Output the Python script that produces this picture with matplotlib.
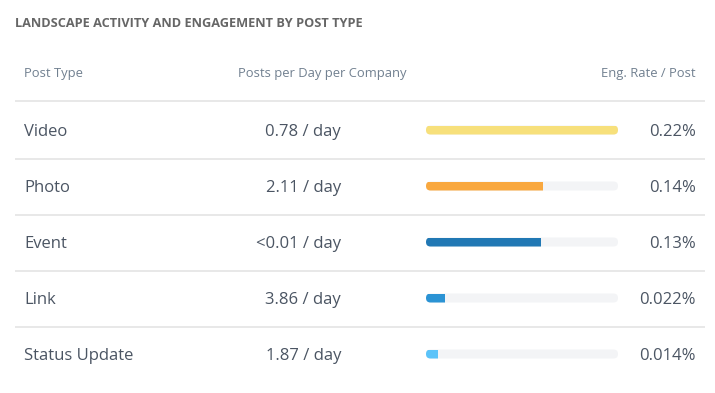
import matplotlib
matplotlib.use("Agg")
import matplotlib.pyplot as plt
from matplotlib.patches import FancyBboxPatch

# ---- data ----
title = "LANDSCAPE ACTIVITY AND ENGAGEMENT BY POST TYPE"
headers = ["Post Type", "Posts per Day per Company", "Eng. Rate / Post"]
post_types = ["Video", "Photo", "Event", "Link", "Status Update"]
posts_per_day = ["0.78 / day", "2.11 / day", "<0.01 / day", "3.86 / day", "1.87 / day"]
eng_rate = [0.22, 0.134, 0.132, 0.0218, 0.0138]
eng_labels = ["0.22%", "0.14%", "0.13%", "0.022%", "0.014%"]
bar_colors = ["#f7e07b", "#f9a83f", "#2178b4", "#2b93d4", "#5bc3f9"]

W, H = 715, 393
fig = plt.figure(figsize=(W / 100, H / 100), dpi=100)
ax = fig.add_axes([0, 0, 1, 1])
ax.set_xlim(0, W)
ax.set_ylim(H, 0)
ax.axis("off")

FONT = "Open Sans"
title_c = "#666666"
head_c = "#718090"
text_c = "#4b5563"
line_c = "#e6e6e6"
track_c = "#f3f4f6"

ax.text(15, 27, title, fontsize=9.2, fontweight="bold", color=title_c,
        family=FONT, va="baseline", ha="left")

hy = 77
ax.text(24, hy, headers[0], fontsize=9.4, color=head_c, family=FONT, va="baseline", ha="left")
ax.text(322.5, hy, headers[1], fontsize=9.4, color=head_c, family=FONT, va="baseline", ha="center")
ax.text(696, hy, headers[2], fontsize=9.4, color=head_c, family=FONT, va="baseline", ha="right")
ax.plot([15, 705], [101, 101], color=line_c, lw=1.3, solid_capstyle="butt")

row0, step = 130, 56
bar_x0, bar_w, bar_h = 426, 192, 9

bx = fig.add_axes([bar_x0 / W, 0, bar_w / W, 1])
bx.set_xlim(0, max(eng_rate))
bx.set_ylim(H, 0)
bx.axis("off")
bx.patch.set_alpha(0)

for i, (name, ppd, v, lab, col) in enumerate(zip(post_types, posts_per_day, eng_rate, eng_labels, bar_colors)):
    yc = row0 + i * step
    by = yc + 6
    ax.text(24, by, name, fontsize=12, color=text_c, family=FONT, va="baseline", ha="left")
    ax.text(341, by, ppd, fontsize=12, color=text_c, family=FONT, va="baseline", ha="right")
    ax.text(696, by, lab, fontsize=12, color=text_c, family=FONT, va="baseline", ha="right")
    track = FancyBboxPatch((bar_x0, yc - bar_h / 2), bar_w, bar_h,
                           boxstyle="round,pad=0,rounding_size=4.5",
                           fc=track_c, ec="none", transform=ax.transData)
    ax.add_patch(track)
    bars = bx.barh([yc], [v], height=bar_h, left=0, color=col, edgecolor="none")
    for b in bars:
        b.set_clip_path(track)
    if i < len(post_types) - 1:
        ly = yc + step / 2 + 1
        ax.plot([15, 705], [ly, ly], color=line_c, lw=1.3, solid_capstyle="butt")

fig.savefig("out.png", dpi=100, facecolor="white")
